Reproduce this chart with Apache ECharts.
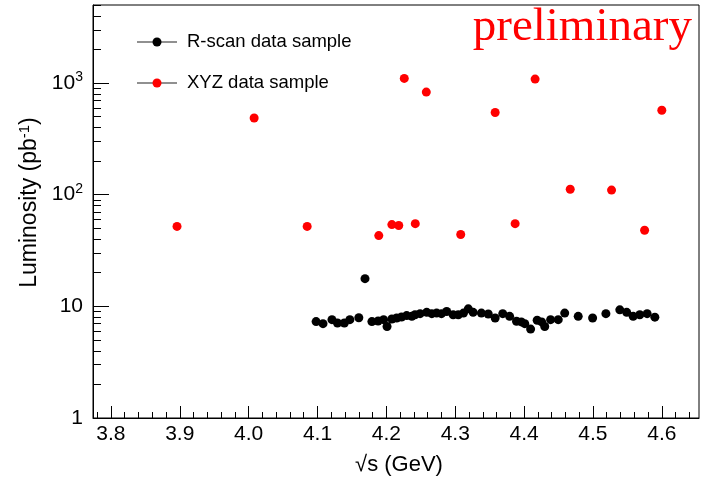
<!DOCTYPE html>
<html>
<head>
<meta charset="utf-8">
<script src="https://cdn.jsdelivr.net/npm/echarts@6/dist/echarts.min.js"></script>
<style>html,body{margin:0;padding:0;background:#fff}#c{width:701px;height:479px}</style>
</head>
<body>
<div id="c"></div>
<script>
// R-scan data sample
const rscanE = [4.098,4.108,4.121,4.129,4.139,4.147,4.160,4.169,4.179,4.188,4.196,4.201,4.208,4.215,4.222,4.2295,4.237,4.2416,4.249,4.2586,4.266,4.273,4.280,4.2876,4.297,4.3045,4.312,4.319,4.326,4.338,4.348,4.358,4.369,4.379,4.389,4.396,4.401,4.4095,4.419,4.4255,4.430,4.4385,4.4496,4.459,4.4786,4.4995,4.5188,4.539,4.549,4.5584,4.568,4.5787,4.5899];
const rscanL = [7.3,7.0,7.6,7.1,7.1,7.6,7.9,17.7,7.3,7.4,7.6,6.6,7.7,7.86,8.03,8.26,8.14,8.4,8.6,8.84,8.6,8.7,8.6,9.0,8.4,8.4,8.7,9.5,8.84,8.7,8.55,7.86,8.6,8.14,7.35,7.25,7.0,6.26,7.5,7.25,6.6,7.6,7.6,8.7,8.14,7.86,8.6,9.3,8.84,8.14,8.4,8.6,8.0];
// XYZ data sample
const xyzE = [3.896,4.008,4.085,4.189,4.208,4.218,4.226,4.242,4.258,4.308,4.358,4.387,4.416,4.467,4.527,4.575,4.600];
const xyzL = [52,486,52,43,54,53,1100,55,830,44,545,55,1085,112,110,48,570];

const seriesNames = ['R-scan data sample', 'XYZ data sample'];
const xTicks = [3.8,3.9,4.0,4.1,4.2,4.3,4.4,4.5,4.6];
const xMinorTicks = [3.78,3.82,3.84,3.86,3.88,3.92,3.94,3.96,3.98,4.02,4.04,4.06,4.08,4.12,4.14,4.16,4.18,4.22,4.24,4.26,4.28,4.32,4.34,4.36,4.38,4.42,4.44,4.46,4.48,4.52,4.54,4.56,4.58,4.62,4.64];
const yTicks = [1,10,100,1000];
const yTickLabels = ['1','10','10{sup|2}','10{sup|3}'];
const yMinorTicks = [2,3,4,5,6,7,8,9,20,30,40,50,60,70,80,90,200,300,400,500,600,700,800,900,2000,3000,4000,5000];

const XMIN = 3.774, XMAX = 4.654, YMIN = 1, YMAX = 5000;
const FONT = 'Liberation Sans';

const chart = echarts.init(document.getElementById('c'), null, {renderer: 'canvas'});
chart.setOption({
  animation: false,
  backgroundColor: '#fff',
  title: {
    text: 'preliminary', right: 9, top: 4, padding: 0,
    textStyle: {fontFamily: 'Liberation Serif', fontSize: 47, fontWeight: 'normal', color: '#ff0000'}
  },
  grid: {left: 93, top: 5, width: 606, height: 413, show: true, borderColor: '#000', borderWidth: 1,
    containLabel: false, outerBoundsMode: 'none'},
  legend: [
    {
      data: seriesNames, orient: 'vertical', left: 137, top: 32, itemGap: 21, padding: 0,
      icon: 'rect', itemWidth: 40, itemHeight: 1, selectedMode: false,
      itemStyle: {color: '#222', borderWidth: 0},
      textStyle: {fontFamily: FONT, fontSize: 18.5, color: '#000', lineHeight: 20, padding: [0,0,0,5]}
    },
    {
      data: seriesNames, orient: 'vertical', left: 152.5, top: 32, itemGap: 21, padding: 0,
      icon: 'circle', itemWidth: 9, itemHeight: 9, selectedMode: false,
      formatter: function () { return ' '; },
      textStyle: {fontFamily: FONT, fontSize: 18.5, lineHeight: 20}
    }
  ],
  xAxis: [
    {
      type: 'value', min: XMIN, max: XMAX, position: 'bottom',
      name: '√s (GeV)', nameLocation: 'middle', nameGap: 36,
      nameTextStyle: {fontFamily: FONT, fontSize: 22, color: '#000', padding: [0,0,0,6]},
      axisLine: {show: true, onZero: false, lineStyle: {color: '#000', width: 1}},
      axisTick: {show: true, inside: true, length: 12, customValues: xTicks, lineStyle: {color: '#000'}},
      axisLabel: {show: true, customValues: xTicks, margin: 6, fontFamily: FONT, fontSize: 21, color: '#000',
        formatter: function (v) { return v.toFixed(1); }},
      splitLine: {show: false}
    },
    {
      type: 'value', min: XMIN, max: XMAX, position: 'bottom',
      axisLine: {show: false},
      axisTick: {show: true, inside: true, length: 6, customValues: xMinorTicks, lineStyle: {color: '#000'}},
      axisLabel: {show: false},
      splitLine: {show: false}
    }
  ],
  yAxis: [
    {
      type: 'log', logBase: 10, min: YMIN, max: YMAX, position: 'left',
      name: 'Luminosity (pb{sup|-1})', nameLocation: 'middle', nameGap: 51,
      nameTextStyle: {fontFamily: FONT, fontSize: 23, color: '#000', padding: [0,0,0,18],
        rich: {sup: {fontFamily: FONT, fontSize: 15, color: '#000', verticalAlign: 'top', padding: [0,0,9,0]}}},
      axisLine: {show: true, onZero: false, lineStyle: {color: '#000', width: 1}},
      axisTick: {show: true, inside: true, length: 16, customValues: yTicks, lineStyle: {color: '#000'}},
      axisLabel: {show: true, customValues: yTicks, margin: 10, fontFamily: FONT, fontSize: 21, color: '#000',
        formatter: function (v) { const i = yTicks.indexOf(Math.round(v)); return i >= 0 ? yTickLabels[i] : ''; },
        rich: {sup: {fontFamily: FONT, fontSize: 14, color: '#000', padding: [0,0,11,0]}}},
      splitLine: {show: false}
    },
    {
      type: 'log', logBase: 10, min: YMIN, max: YMAX, position: 'left',
      axisLine: {show: false},
      axisTick: {show: true, inside: true, length: 8, customValues: yMinorTicks, lineStyle: {color: '#000'}},
      axisLabel: {show: false},
      splitLine: {show: false}
    }
  ],
  series: [
    {
      name: seriesNames[0], type: 'scatter', xAxisIndex: 0, yAxisIndex: 0,
      symbol: 'circle', symbolSize: 9, itemStyle: {color: '#000', opacity: 1},
      data: rscanE.map((e, i) => [e, rscanL[i]])
    },
    {
      name: seriesNames[1], type: 'scatter', xAxisIndex: 0, yAxisIndex: 0,
      symbol: 'circle', symbolSize: 9, itemStyle: {color: '#ff0000', opacity: 1},
      data: xyzE.map((e, i) => [e, xyzL[i]])
    }
  ]
});
</script>
</body>
</html>
